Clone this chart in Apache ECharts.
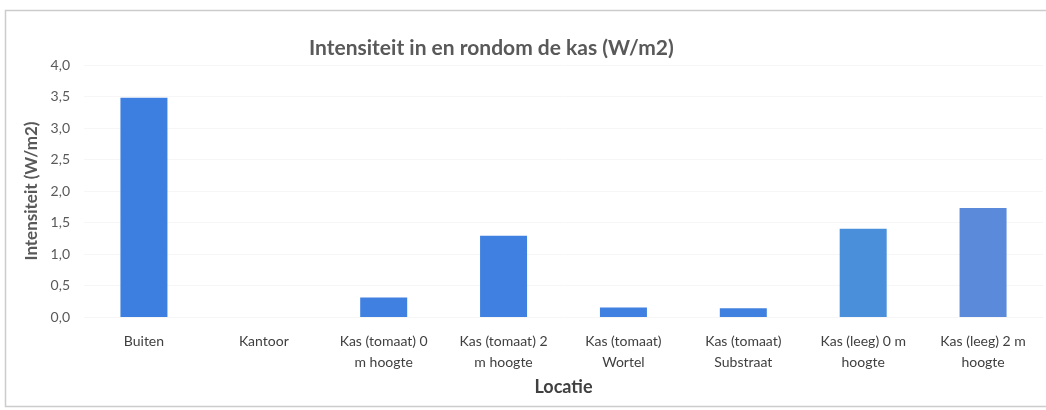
<!DOCTYPE html>
<html><head><meta charset="utf-8">
<script src="https://cdn.jsdelivr.net/npm/echarts@6/dist/echarts.min.js"></script>
<style>html,body{margin:0;padding:0;background:#fff}#c{width:1046px;height:410px}</style>
</head><body><div id="c"></div>
<script>
const categories = ['Buiten', 'Kantoor', 'Kas (tomaat) 0\nm hoogte', 'Kas (tomaat) 2\nm hoogte', 'Kas (tomaat)\nWortel', 'Kas (tomaat)\nSubstraat', 'Kas (leeg) 0 m\nhoogte', 'Kas (leeg) 2 m\nhoogte'];
const values = [3.48, 0, 0.31, 1.29, 0.15, 0.14, 1.40, 1.73];
const barColors = ['#3d7fe0', '#3d7fe0', '#3f80e0', '#3f80e0', '#3f80e0', '#4080de', '#4a8fda', '#5a8ad9'];
const yTicks = { min: 0, max: 4, interval: 0.5 };

const chart = echarts.init(document.getElementById('c'));
const font = 'Lato, "Open Sans", sans-serif';
chart.setOption({
  animation: false,
  title: {
    text: 'Intensiteit in en rondom de kas (W/m2)', left: 304, top: 33,
    textStyle: { fontFamily: font, fontSize: 21, fontWeight: 'bold', color: '#595959' }
  },
  graphic: [{
    type: 'rect', shape: { x: 5.5, y: 10.5, width: 1060, height: 396 },
    style: { fill: 'none', stroke: '#cccccc', lineWidth: 1.5 }, silent: true
  }],
  grid: { left: 84, right: 3, top: 65, bottom: 93 },
  xAxis: {
    type: 'category', data: categories,
    name: 'Locatie', nameLocation: 'middle', nameGap: 57,
    nameTextStyle: { fontFamily: font, fontSize: 18, fontWeight: 'bold', color: '#404040' },
    axisLine: { show: false }, axisTick: { show: false },
    axisLabel: { interval: 0, margin: 14, fontFamily: font, fontSize: 14, color: '#404040', lineHeight: 21 }
  },
  yAxis: {
    type: 'value', min: yTicks.min, max: yTicks.max, interval: yTicks.interval,
    name: 'Intensiteit (W/m2)', nameLocation: 'middle', nameGap: 42,
    nameTextStyle: { fontFamily: font, fontSize: 17, fontWeight: 'bold', color: '#595959' },
    axisLine: { show: false }, axisTick: { show: false },
    splitLine: { show: true, lineStyle: { color: '#f6f6f6' } },
    axisLabel: { margin: 14, fontFamily: font, fontSize: 14, color: '#595959',
      formatter: v => v.toFixed(1).replace('.', ',') }
  },
  series: [{
    type: 'bar', barWidth: 47,
    data: values.map((v, i) => ({ value: v, itemStyle: { color: barColors[i] } }))
  }]
});
</script></body></html>
